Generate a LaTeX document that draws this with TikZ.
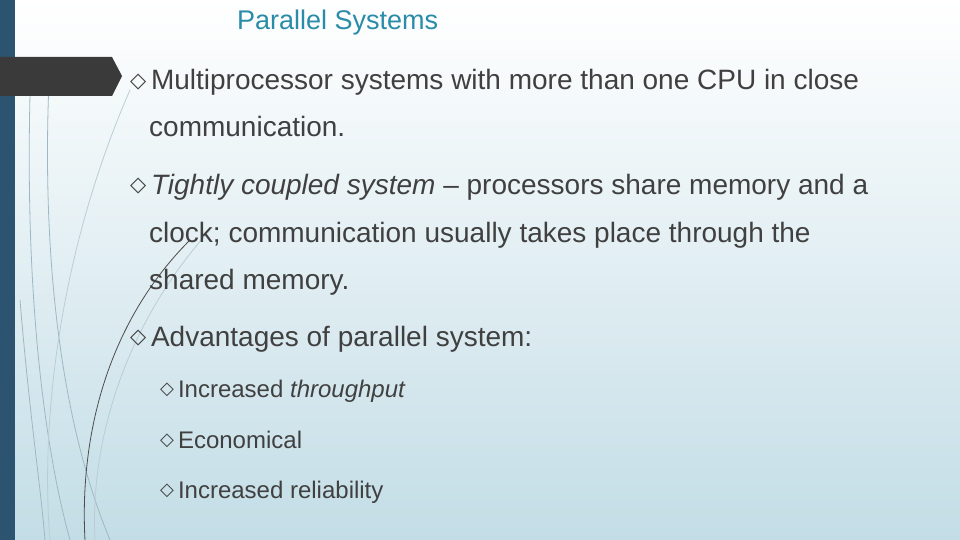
\documentclass[tikz,border=0pt]{standalone}
\usepackage{fontspec}
\setmainfont{Liberation Sans}
\newfontfamily\symfont{DejaVu Sans}
\usetikzlibrary{positioning}
\definecolor{barblue}{HTML}{2C5470}
\definecolor{bgblue}{HTML}{C3DDE6}
\definecolor{titleteal}{HTML}{2A8CA8}
\definecolor{tabgray}{HTML}{3A3A3A}
\definecolor{curveblue}{HTML}{9DB8C4}
\newcommand{\dia}{{\symfont\fontsize{0.75em}{1em}\selectfont\raisebox{0.12em}{◇}}\,}
\tikzset{
  bullet/.style={anchor=base west,font=\fontsize{28}{32}\selectfont,text=black!75,inner sep=0pt},
  subbullet/.style={anchor=base west,font=\fontsize{24}{28}\selectfont,text=black!75,inner sep=0pt},
  swoosh/.style={draw=curveblue,line width=0.8pt}
}
\begin{document}
\begin{tikzpicture}[x=1pt,y=-1pt]
\useasboundingbox (0,0) rectangle (960,540);
%background
\shade[top color=white,bottom color=bgblue] (0,0) rectangle (960,540);
\fill[barblue] (0,0) rectangle (15,540);
%curves
\draw[swoosh] (50,60) .. controls (40,250) and (60,420) .. (110,540);
\draw[swoosh] (30,95) .. controls (25,300) and (45,450) .. (70,540);
\draw[swoosh,draw=curveblue!70] (210,230) .. controls (120,330) and (90,450) .. (95,540);
\draw[swoosh,draw=black!70] (190,240) .. controls (100,330) and (80,450) .. (85,540);
\draw[swoosh,draw=curveblue!70] (130,90) .. controls (60,250) and (40,420) .. (50,540);
\draw[swoosh] (20,300) .. controls (30,420) and (40,480) .. (45,540);
%tab
\fill[tabgray] (0,57) -- (112,57) -- (122,76) -- (112,96) -- (0,96) -- cycle;
%title
\node[anchor=base west,font=\fontsize{27}{30}\selectfont,text=titleteal,inner sep=0pt] (title) at (237,30) {Parallel Systems};
%bullets
\node[bullet] (mp) at (130,90) {\dia Multiprocessor systems with more than one CPU in close};
\node[bullet] (mp2) at (149,137) {communication.};
\node[bullet] (tc) at (130,194) {\dia\textit{Tightly coupled system} -- processors share memory and a};
\node[bullet] (tc2) at (149,242) {clock; communication usually takes place through the};
\node[bullet] (tc3) at (149,289) {shared memory.};
\node[bullet] (adv) at (130,346) {\dia Advantages of parallel system:};
\node[subbullet] (thr) at (160,397) {\dia Increased \textit{throughput}};
\node[subbullet] (eco) at (160,448) {\dia Economical};
\node[subbullet] (rel) at (160,498) {\dia Increased reliability};
\end{tikzpicture}
\end{document}
